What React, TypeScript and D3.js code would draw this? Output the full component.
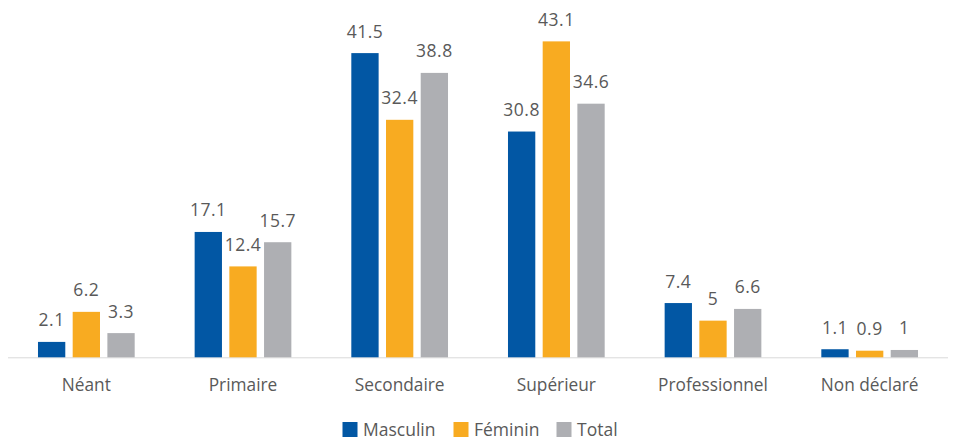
import React from "react";
import * as d3 from "d3";

const categories = ["Néant", "Primaire", "Secondaire", "Supérieur", "Professionnel", "Non déclaré"];
const seriesNames = ["Masculin", "Féminin", "Total"];
const masculin = [2.1, 17.1, 41.5, 30.8, 7.4, 1.1];
const feminin = [6.2, 12.4, 32.4, 43.1, 5, 0.9];
const total = [3.3, 15.7, 38.8, 34.6, 6.6, 1];
const colors = ["#0257a4", "#f8ab21", "#aeafb3"];

const W = 953;
const H = 440;
const FONT = "'Open Sans', sans-serif";
const TEXT = "#595959";

export default function App() {
  const series = [masculin, feminin, total];
  const x0 = d3.scaleBand<string>().domain(categories).range([8, 948]).paddingInner(0).paddingOuter(0);
  const groupWidth = 96.7;
  const x1 = d3
    .scaleBand<string>()
    .domain(seriesNames)
    .range([0, groupWidth])
    .paddingInner(0.213)
    .paddingOuter(0);
  const base = 357.3;
  const y = d3.scaleLinear().domain([0, 45]).range([base, base - 45 * 7.33]);
  const baseY = y(0);

  const legendItems = [
    { x: 342.5 },
    { x: 453.5 },
    { x: 556.5 },
  ];

  return (
    <svg
      width={W}
      height={H}
      style={{ position: "absolute", left: 0, top: 0, background: "#fff" }}
      fontFamily={FONT}
    >
      <rect x={0} y={0} width={W} height={H} fill="#fff" />
      <line x1={8} x2={948} y1={baseY + 0.5} y2={baseY + 0.5} stroke="#d9d9d9" strokeWidth={1} />
      {categories.map((c, ci) => {
        const gx = (x0(c) as number) + (x0.bandwidth() - groupWidth) / 2;
        return (
          <g key={c}>
            {seriesNames.map((s, si) => {
              const v = series[si][ci];
              const bx = gx + (x1(s) as number);
              const bw = x1.bandwidth();
              return (
                <g key={s}>
                  <rect x={bx} y={y(v)} width={bw} height={baseY - y(v)} fill={colors[si]} />
                  <text
                    x={bx + bw / 2}
                    y={y(v) - 15.5}
                    textAnchor="middle"
                    fontSize={17.5}
                    letterSpacing={0.5}
                    fill={TEXT}
                  >
                    {String(v)}
                  </text>
                </g>
              );
            })}
            <text
              x={(x0(c) as number) + x0.bandwidth() / 2}
              y={391}
              textAnchor="middle"
              fontSize={17.3}
              fill={TEXT}
            >
              {c}
            </text>
          </g>
        );
      })}
      {seriesNames.map((s, i) => (
        <g key={s}>
          <rect x={legendItems[i].x} y={422} width={15} height={15} fill={colors[i]} />
          <text x={legendItems[i].x + 20.5} y={436} fontSize={17.5} fill={TEXT}>
            {s}
          </text>
        </g>
      ))}
    </svg>
  );
}
